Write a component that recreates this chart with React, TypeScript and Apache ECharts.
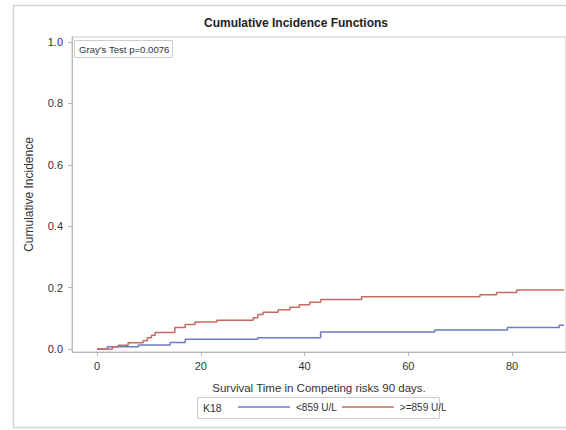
import React, { useEffect, useRef } from "react";
import * as echarts from "echarts";

// Cumulative incidence step functions (time in days, cumulative incidence)
const lowTimes = [0, 2.0, 8.0, 14.1, 17.0, 31.0, 43.1, 65.1, 79.1, 89.1, 90];
const lowCif = [0, 0.007, 0.013, 0.021, 0.032, 0.037, 0.055, 0.062, 0.07, 0.077, 0.077];

const highTimes = [0, 3.0, 4.1, 6.0, 8.9, 9.7, 10.5, 11.2, 15.0, 17.0, 18.9, 23.1, 30.1, 31.0, 32.0, 34.9, 37.2, 39.0, 41.0, 43.1, 51.0, 73.8, 77.0, 80.9, 90];
const highCif = [0, 0.007, 0.012, 0.02, 0.027, 0.037, 0.045, 0.054, 0.07, 0.08, 0.088, 0.094, 0.102, 0.112, 0.12, 0.128, 0.136, 0.144, 0.152, 0.161, 0.17, 0.177, 0.184, 0.192, 0.192];

const xTicks = [0, 20, 40, 60, 80];
const yTicks = [0, 0.2, 0.4, 0.6, 0.8, 1.0];

const groupNames = ["<859 U/L", ">=859 U/L"];
const groupColors = ["#6c7cc0", "#c66a5f"];
const legendTitle = "K18";
const chartTitle = "Cumulative Incidence Functions";
const testLabel = "Gray's Test p=0.0076";

const FONT = "'Liberation Sans', Arial, sans-serif";

export default function App() {
  const ref = useRef<HTMLDivElement>(null);

  useEffect(() => {
    if (!ref.current) return;
    const chart = echarts.init(ref.current, undefined, { renderer: "svg" });
    const pair = (ts: number[], vs: number[]) => ts.map((t, i) => [t, vs[i]]);

    chart.setOption({
      animation: false,
      backgroundColor: "#ffffff",
      textStyle: { fontFamily: FONT },
      grid: {
        left: 72,
        top: 37,
        right: 0,
        bottom: 78,
        show: true,
        borderColor: "#c8c8c8",
        borderWidth: 1,
      },
      xAxis: {
        type: "value",
        min: -4.82,
        max: 90.4,
        name: "Survival Time in Competing risks 90 days.",
        nameLocation: "middle",
        nameGap: 30,
        nameTextStyle: { fontSize: 11.5, color: "#333", fontFamily: FONT },
        axisLine: { show: true, onZero: false, lineStyle: { color: "#b8b8b8" } },
        axisTick: { show: true, length: 4, customValues: xTicks, lineStyle: { color: "#b8b8b8" } },
        axisLabel: {
          customValues: xTicks,
          margin: 8,
          fontSize: 11,
          color: "#333",
          fontFamily: FONT,
        },
        splitLine: { show: false },
      },
      yAxis: {
        type: "value",
        min: -0.0098,
        max: 1.0163,
        name: "Cumulative Incidence",
        nameLocation: "middle",
        nameGap: 37,
        nameTextStyle: { fontSize: 12, color: "#333", fontFamily: FONT },
        axisLine: { show: true, onZero: false, lineStyle: { color: "#b8b8b8" } },
        axisTick: { show: true, length: 4, customValues: yTicks, lineStyle: { color: "#b8b8b8" } },
        axisLabel: {
          customValues: yTicks,
          margin: 9,
          fontSize: 11,
          color: "#333",
          fontFamily: FONT,
          formatter: (v: number) => v.toFixed(1),
        },
        splitLine: { show: false },
      },
      legend: {
        left: 238,
        top: 402,
        icon: "rect",
        itemWidth: 52,
        itemHeight: 1.5,
        itemGap: 5,
        padding: 0,
        textStyle: { fontSize: 10, color: "#333", fontFamily: FONT, padding: [0, 0, 0, 1] },
        data: groupNames,
      },
      series: groupNames.map((name, k) => ({
        name,
        type: "line",
        step: "end",
        symbol: "none",
        data: k === 0 ? pair(lowTimes, lowCif) : pair(highTimes, highCif),
        lineStyle: { color: groupColors[k], width: 1.5 },
        itemStyle: { color: groupColors[k] },
      })),
      graphic: [
        {
          type: "rect",
          shape: { x: 13.5, y: 5.5, width: 600, height: 422 },
          style: { fill: "none", stroke: "#d4d4d4", lineWidth: 1.5 },
          silent: true,
        },
        {
          type: "text",
          x: 296,
          y: 23,
          style: {
            text: chartTitle,
            fontSize: 12,
            fontWeight: "bold",
            fontFamily: FONT,
            fill: "#222",
            align: "center",
            verticalAlign: "middle",
          },
        },
        {
          type: "rect",
          shape: { x: 74.5, y: 40.5, width: 98, height: 17 },
          style: { fill: "#ffffff", stroke: "#cccccc", lineWidth: 1 },
        },
        {
          type: "text",
          x: 79,
          y: 49,
          style: {
            text: testLabel,
            fontSize: 9.6,
            fontFamily: FONT,
            fill: "#333",
            align: "left",
            verticalAlign: "middle",
          },
        },
        {
          type: "rect",
          shape: { x: 197.5, y: 397.5, width: 242, height: 21 },
          style: { fill: "none", stroke: "#cccccc", lineWidth: 1 },
        },
        {
          type: "text",
          x: 203,
          y: 408,
          style: {
            text: legendTitle,
            fontSize: 10.5,
            fontFamily: FONT,
            fill: "#333",
            align: "left",
            verticalAlign: "middle",
          },
        },
      ],
    });

    return () => chart.dispose();
  }, []);

  return (
    <div
      ref={ref}
      style={{ position: "fixed", left: 0, top: 0, width: 566, height: 430, background: "#fff" }}
    />
  );
}
